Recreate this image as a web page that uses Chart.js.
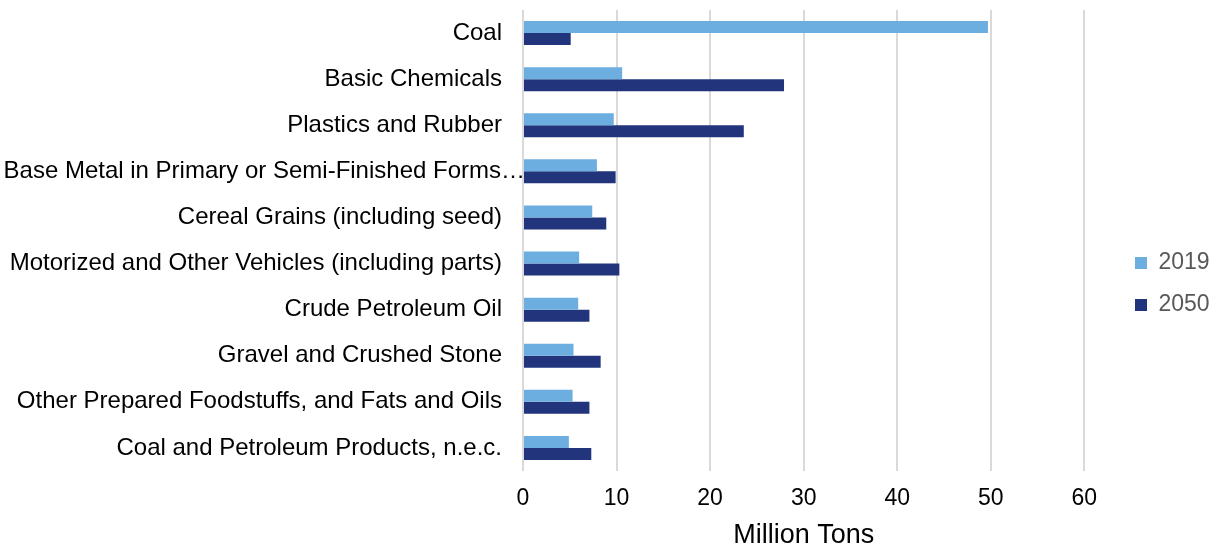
<!DOCTYPE html>
<html>
<head>
<meta charset="utf-8">
<script src="https://cdn.jsdelivr.net/npm/chart.js@4/dist/chart.umd.min.js"></script>
<style>
  html, body { margin: 0; padding: 0; background: #fff; }
  #wrap { width: 1215px; height: 546px; position: relative; }
</style>
</head>
<body>
<div id="wrap"><canvas id="c"></canvas></div>
<script>
// Freight commodities, million tons
const categories = [
  'Coal',
  'Basic Chemicals',
  'Plastics and Rubber',
  'Base Metal in Primary or Semi-Finished Forms\u2026',
  'Cereal Grains (including seed)',
  'Motorized and Other Vehicles (including parts)',
  'Crude Petroleum Oil',
  'Gravel and Crushed Stone',
  'Other Prepared Foodstuffs, and Fats and Oils',
  'Coal and Petroleum Products, n.e.c.'
];
const seriesNames = ['2019', '2050'];
const values2019 = [49.7, 10.6, 9.7, 7.9, 7.4, 6.0, 5.9, 5.4, 5.3, 4.9];
const values2050 = [5.1, 27.9, 23.6, 9.9, 8.9, 10.3, 7.1, 8.3, 7.1, 7.3];
const xTickValues = [0, 10, 20, 30, 40, 50, 60];
const axisTitle = 'Million Tons';

const FONT = '"Liberation Sans", Arial, sans-serif';
const LABEL_SIZE = 24;
const LONG_LABEL = 3; // the truncated label spills past the axis edge
const LEGEND_PAD = 19;

// Nudges the legend block right and down, away from the plot
const legendNudge = {
  id: 'legendNudge',
  afterLayout(chart) {
    const lg = chart.legend;
    const dx = 1135 - (lg.left + LEGEND_PAD);
    lg.left += dx; lg.right += dx;
    lg.top += 6; lg.bottom += 6;
  }
};

// Draws the spilling category label, anchored a little right of the others
const spillLabel = {
  id: 'spillLabel',
  afterDraw(chart) {
    const y = chart.scales.y;
    const ctx = chart.ctx;
    ctx.save();
    ctx.font = LABEL_SIZE + 'px ' + FONT;
    ctx.fillStyle = '#000';
    ctx.textAlign = 'right';
    ctx.textBaseline = 'middle';
    ctx.fillText(categories[LONG_LABEL], y.right + 2, y.getPixelForTick(LONG_LABEL));
    ctx.restore();
  }
};

new Chart(document.getElementById('c'), {
  type: 'bar',
  data: {
    labels: categories,
    datasets: [
      { label: seriesNames[0], data: values2019, backgroundColor: '#6DAEE0' },
      { label: seriesNames[1], data: values2050, backgroundColor: '#21347C' }
    ]
  },
  options: {
    indexAxis: 'y',
    responsive: true,
    maintainAspectRatio: false,
    animation: false,
    layout: { padding: { top: 10, right: 27, left: 0, bottom: 0 } },
    datasets: { bar: { categoryPercentage: 0.52, barPercentage: 1.0 } },
    scales: {
      x: {
        min: 0, max: 60,
        afterBuildTicks(scale) { scale.ticks = xTickValues.map(v => ({ value: v })); },
        afterFit(scale) { scale.height = 75; },
        grid: { color: '#D9D9D9', lineWidth: 2, drawTicks: false },
        border: { display: false },
        ticks: { color: '#000', font: { family: FONT, size: 23 }, padding: 14 },
        title: { display: true, text: axisTitle, color: '#000',
                 font: { family: FONT, size: 27, lineHeight: 0.8 }, padding: { top: 4, bottom: 0 } }
      },
      y: {
        afterFit(scale) { scale.width = 523; scale.paddingTop = 0; scale.paddingBottom = 0; },
        grid: { display: false },
        border: { display: false },
        ticks: {
          color: (c) => c.index === LONG_LABEL ? 'rgba(0,0,0,0)' : '#000',
          font: { family: FONT, size: LABEL_SIZE },
          padding: 13
        }
      }
    },
    plugins: {
      legend: {
        position: 'right',
        labels: {
          boxWidth: 12, boxHeight: 12, padding: LEGEND_PAD,
          color: '#595959', font: { family: FONT, size: 23 }
        }
      },
      tooltip: { enabled: false }
    }
  },
  plugins: [legendNudge, spillLabel]
});
</script>
</body>
</html>
